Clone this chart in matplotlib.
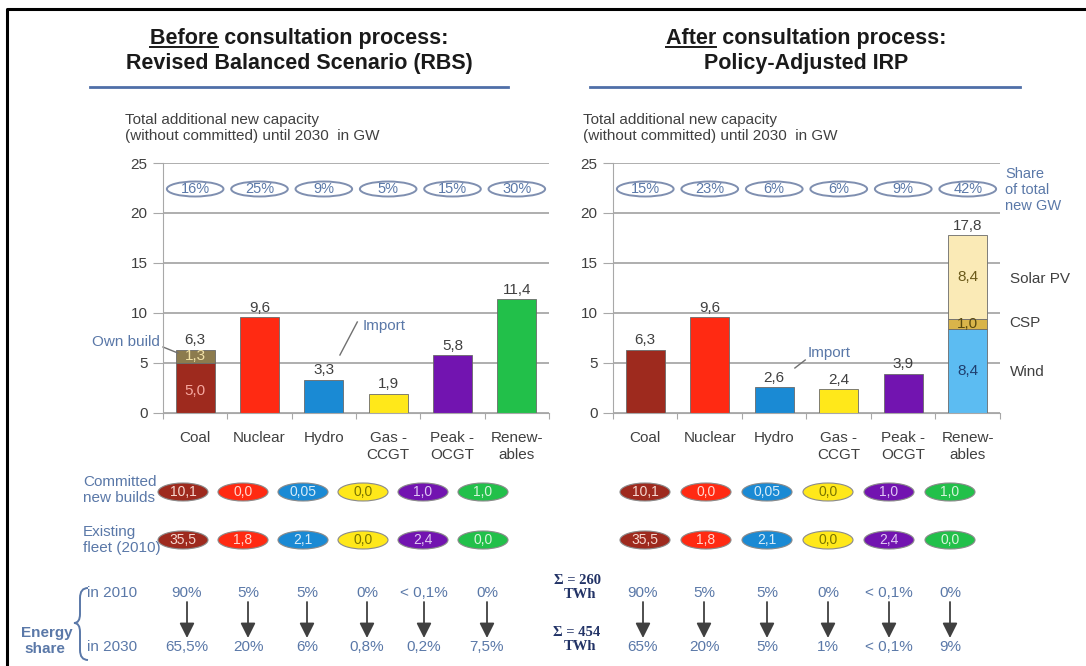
import numpy as np
import matplotlib
matplotlib.use("Agg")
import matplotlib.pyplot as plt
from matplotlib.patches import Ellipse, PathPatch
from matplotlib.path import Path

plt.rcParams['font.family'] = ['Liberation Sans', 'DejaVu Sans']

categories = ['Coal', 'Nuclear', 'Hydro', 'Gas -\nCCGT', 'Peak -\nOCGT', 'Renew-\nables']
colors = ['#9e2a1e', '#ff2a12', '#1a8ad4', '#ffe81a', '#7214b0', '#22c04a']
oval_text = ['#f6d8d0', '#ffd8d0', '#d8ecf8', '#7a7400', '#e0c8f4', '#d8f4dc']

# Revised Balanced Scenario (before consultation)
rbs_totals = [6.3, 9.6, 3.3, 1.9, 5.8, 11.4]
rbs_coal_own = 5.0
rbs_coal_import = 1.3
rbs_share = ['16%', '25%', '9%', '5%', '15%', '30%']
rbs_committed = ['10,1', '0,0', '0,05', '0,0', '1,0', '1,0']
rbs_existing = ['35,5', '1,8', '2,1', '0,0', '2,4', '0,0']
rbs_energy_2010 = ['90%', '5%', '5%', '0%', '< 0,1%', '0%']
rbs_energy_2030 = ['65,5%', '20%', '6%', '0,8%', '0,2%', '7,5%']

# Policy-Adjusted IRP (after consultation)
irp_totals = [6.3, 9.6, 2.6, 2.4, 3.9, 17.8]
irp_wind = 8.4
irp_csp = 1.0
irp_pv = 8.4
irp_share = ['15%', '23%', '6%', '6%', '9%', '42%']
irp_committed = ['10,1', '0,0', '0,05', '0,0', '1,0', '1,0']
irp_existing = ['35,5', '1,8', '2,1', '0,0', '2,4', '0,0']
irp_energy_2010 = ['90%', '5%', '5%', '0%', '< 0,1%', '0%']
irp_energy_2030 = ['65%', '20%', '5%', '1%', '< 0,1%', '9%']

energy_total_2010 = 260
energy_total_2030 = 454

W, H = 1086, 666
fig = plt.figure(figsize=(W / 100, H / 100), dpi=100)
fig.patch.set_facecolor('white')

# full-size overlay in pixel units (y pointing down) for the surrounding text
ov = fig.add_axes([0, 0, 1, 1])
ov.set_xlim(0, W)
ov.set_ylim(H, 0)
ov.axis('off')
ov.patch.set_alpha(0)

STEEL = '#5a78a8'
DARK = '#404040'
GRID = '#a8a8a8'


def fmt(v):
    return f"{v:.1f}".replace('.', ',')


def bar_panel(left_px, right_px, totals, share):
    ax = fig.add_axes([left_px / W, (H - 413) / H, (right_px - left_px) / W, 250 / H])
    ax.set_xlim(-0.5, 5.5)
    ax.set_ylim(0, 25)
    ax.set_yticks([0, 5, 10, 15, 20, 25])
    ax.yaxis.grid(True, color=GRID, lw=1.3)
    ax.set_axisbelow(True)
    for s in ['top', 'right']:
        ax.spines[s].set_visible(False)
    ax.spines['left'].set_color(GRID)
    ax.spines['bottom'].set_color(GRID)
    ax.set_xticks(np.arange(-0.5, 6, 1))
    ax.set_xticklabels([])
    ax.tick_params(axis='x', length=4, color=GRID)
    ax.tick_params(axis='y', length=7, color=GRID, labelcolor=DARK, labelsize=11, pad=4)
    ax.patch.set_alpha(0)
    for i, lab in enumerate(categories):
        ax.text(i, -1.8, lab, ha='center', va='top', fontsize=11, color=DARK,
                linespacing=1.25)
    for i, v in enumerate(totals):
        ax.text(i, v + 0.25, fmt(v), ha='center', va='bottom', fontsize=11, color=DARK)
    for i, s in enumerate(share):
        ax.add_patch(Ellipse((i, 22.4), 0.88, 1.5, fc='white', ec='#7f8fb0', lw=1.4))
        ax.text(i, 22.4, s, ha='center', va='center', fontsize=10.5, color=STEEL)
    return ax


x = np.arange(6)

# left panel
axl = bar_panel(163, 549, rbs_totals, rbs_share)
axl.bar(x[1:], rbs_totals[1:], width=0.61, color=colors[1:], edgecolor='#6a6a6a', lw=0.6)
axl.bar(0, rbs_coal_own, width=0.61, color=colors[0], edgecolor='#6a6a6a', lw=0.6)
axl.bar(0, rbs_coal_import, bottom=rbs_coal_own, width=0.61, color='#8c7b4e',
        edgecolor='#6a6a6a', lw=0.6)
axl.text(0, rbs_coal_own / 2 - 0.3, fmt(rbs_coal_own), ha='center', va='center',
         fontsize=11, color='#f6a8a0')
axl.text(0, rbs_coal_own + rbs_coal_import / 2, fmt(rbs_coal_import), ha='center',
         va='center', fontsize=11, color='#f2e2a8')
axl.text(-0.55, 7.1, 'Own build', ha='right', va='center', fontsize=11, color=STEEL,
         clip_on=False)
axl.plot([-0.5, -0.27], [6.6, 6.0], color='#707070', lw=1, clip_on=False)
axl.text(2.6, 8.7, 'Import', ha='left', va='center', fontsize=11, color=STEEL)
axl.plot([2.52, 2.25], [9.1, 5.8], color='#707070', lw=1)

# right panel
axr = bar_panel(613, 1000, irp_totals, irp_share)
axr.bar(x[:5], irp_totals[:5], width=0.61, color=colors[:5], edgecolor='#6a6a6a', lw=0.6)
axr.bar(5, irp_wind, width=0.61, color='#5cbcf2', edgecolor='#6a6a6a', lw=0.6)
axr.bar(5, irp_csp, bottom=irp_wind, width=0.61, color='#d9b44a', edgecolor='#6a6a6a', lw=0.6)
axr.bar(5, irp_pv, bottom=irp_wind + irp_csp, width=0.61, color='#faeab6',
        edgecolor='#6a6a6a', lw=0.6)
axr.text(5, irp_wind / 2, fmt(irp_wind), ha='center', va='center', fontsize=11, color='#1f3f6f')
axr.text(5, irp_wind + irp_csp / 2, fmt(irp_csp), ha='center', va='center', fontsize=11,
         color='#5a4a10')
axr.text(5, irp_wind + irp_csp + irp_pv / 2, fmt(irp_pv), ha='center', va='center',
         fontsize=11, color='#6b5a1a')
for lab, yv in [('Solar PV', 13.4), ('CSP', 9.0), ('Wind', 4.1)]:
    axr.text(5.65, yv, lab, ha='left', va='center', fontsize=11, color=DARK, clip_on=False)
axr.text(5.58, 22.3, 'Share\nof total\nnew GW', ha='left', va='center', fontsize=10.5,
         color=STEEL, linespacing=1.2, clip_on=False)
axr.text(2.52, 6.0, 'Import', ha='left', va='center', fontsize=11, color=STEEL)
axr.plot([2.48, 2.32], [5.3, 4.5], color='#707070', lw=1)

# titles with underlined first word
fig.canvas.draw()
renderer = fig.canvas.get_renderer()


def title(cx, first, rest, line2):
    kw = dict(fontsize=15.5, fontweight='bold', color='#1a1a1a')
    t = ov.text(cx, 44, first + rest, ha='center', va='baseline', **kw)
    ov.text(cx, 69, line2, ha='center', va='baseline', **kw)
    bb = t.get_window_extent(renderer)
    probe = ov.text(0, 0, first, **kw)
    wfirst = probe.get_window_extent(renderer).width
    probe.remove()
    ov.plot([bb.x0, bb.x0 + wfirst], [46.5, 46.5], color='#1a1a1a', lw=1.4)


title(299, 'Before', ' consultation process:', 'Revised Balanced Scenario (RBS)')
title(806, 'After', ' consultation process:', 'Policy-Adjusted IRP')
ov.plot([90, 508], [87, 87], color='#4f6fa8', lw=2)
ov.plot([590, 1020], [87, 87], color='#4f6fa8', lw=2)

for x0 in [125, 583]:
    ov.text(x0, 124, 'Total additional new capacity', fontsize=11, color=DARK, va='baseline')
    ov.text(x0, 140, '(without committed) until 2030  in GW', fontsize=11, color=DARK,
            va='baseline')

# committed / existing ovals
left_cols = [183, 243, 303, 363, 423, 483]
right_cols = [645, 706, 767, 828, 889, 950]
for cols, committed, existing in [(left_cols, rbs_committed, rbs_existing),
                                  (right_cols, irp_committed, irp_existing)]:
    for cx, c, tc, v1, v2 in zip(cols, colors, oval_text, committed, existing):
        for cy, v in [(492, v1), (540, v2)]:
            ov.add_patch(Ellipse((cx, cy), 50, 18, fc=c, ec='#8a8a8a', lw=0.8))
            ov.text(cx, cy, v, ha='center', va='center', fontsize=10, color=tc)

ov.text(83, 482, 'Committed', fontsize=11, color=STEEL, va='center')
ov.text(83, 498, 'new builds', fontsize=11, color=STEEL, va='center')
ov.text(83, 532, 'Existing', fontsize=11, color=STEEL, va='center')
ov.text(83, 548, 'fleet (2010)', fontsize=11, color=STEEL, va='center')

# energy share rows
left_pct = [187, 248, 307, 367, 424, 487]
right_pct = [643, 704, 767, 828, 889, 950]
for cols, e10, e30 in [(left_pct, rbs_energy_2010, rbs_energy_2030),
                       (right_pct, irp_energy_2010, irp_energy_2030)]:
    for cx, a, b in zip(cols, e10, e30):
        ov.text(cx, 593, a, ha='center', va='center', fontsize=11, color=STEEL)
        ov.text(cx, 647, b, ha='center', va='center', fontsize=11, color=STEEL)
        ov.annotate('', xy=(cx, 638), xytext=(cx, 602),
                    arrowprops=dict(arrowstyle='-|>,head_width=0.25,head_length=0.5',
                                    color='#404040', lw=1.3, mutation_scale=18,
                                    shrinkA=0, shrinkB=0))

ov.text(87, 593, 'in 2010', fontsize=11, color=STEEL, va='center')
ov.text(87, 647, 'in 2030', fontsize=11, color=STEEL, va='center')
ov.text(47, 633, 'Energy', fontsize=11, color=STEEL, ha='center', va='center', fontweight='bold')
ov.text(45, 649, 'share', fontsize=11, color=STEEL, ha='center', va='center', fontweight='bold')

# curly brace
verts = [(88, 588), (80, 588), (80, 598), (80, 614), (80, 623), (74, 623),
         (80, 623), (80, 632), (80, 650), (80, 660), (88, 660)]
codes = [Path.MOVETO, Path.CURVE3, Path.CURVE3, Path.LINETO, Path.CURVE3, Path.CURVE3,
         Path.CURVE3, Path.CURVE3, Path.LINETO, Path.CURVE3, Path.CURVE3]
ov.add_patch(PathPatch(Path(verts, codes), fc='none', ec=STEEL, lw=1.4))

sig = dict(fontsize=10.5, color='#223366', ha='center', va='center', fontweight='bold',
           family=['Liberation Serif', 'DejaVu Serif'])
ov.text(577, 580, f'Σ = {energy_total_2010}', **sig)
ov.text(580, 594, 'TWh', **sig)
ov.text(577, 633, f'Σ = {energy_total_2030}', **sig)
ov.text(580, 647, 'TWh', **sig)

# frame
ov.plot([7, 7, W], [H, 9, 9], color='black', lw=2.2, clip_on=False)

fig.savefig('out.png', dpi=100, facecolor='white')
